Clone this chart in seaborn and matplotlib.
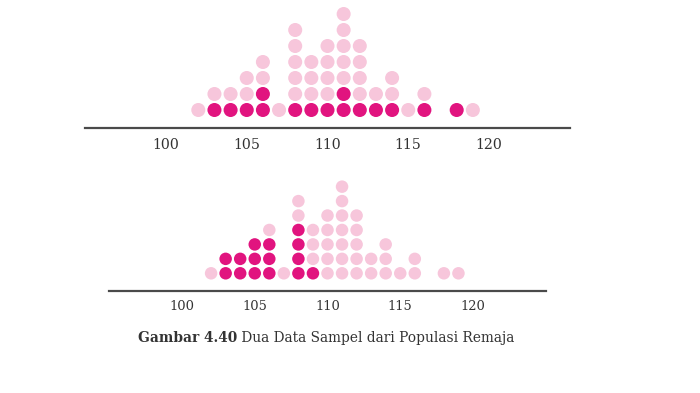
import pandas as pd
import matplotlib
matplotlib.use("Agg")
import matplotlib.pyplot as plt
import seaborn as sns

# --- Data: population of teenagers (dot per person) and two samples ---
values = [102, 103, 104, 105, 106, 107, 108, 109, 110, 111, 112, 113, 114, 115, 116, 118, 119]
pop_counts = [1, 2, 2, 3, 4, 1, 6, 4, 5, 7, 5, 2, 3, 1, 2, 1, 1]
sample1_counts = [0, 1, 1, 1, 2, 0, 1, 1, 1, 2, 1, 1, 1, 0, 1, 1, 0]
sample2_counts = [0, 2, 2, 3, 3, 0, 4, 1, 0, 0, 0, 0, 0, 0, 0, 0, 0]
tick_values = [100, 105, 110, 115, 120]
caption_bold = "Gambar 4.40"
caption_rest = " Dua Data Sampel dari Populasi Remaja"

DARK = "#E1147F"
LIGHT = "#F7C6DB"
AXIS = "#4a4a4a"


def stack_points(sample_counts):
    rows = []
    for v, n, k in zip(values, pop_counts, sample_counts):
        for level in range(n):
            rows.append({"value": v, "level": level, "sampled": level < k})
    return pd.DataFrame(rows)


sns.set_style("white")
plt.rcParams["font.family"] = ["DejaVu Serif"]

fig = plt.figure(figsize=(7, 3.93), dpi=100)
W, H = 700, 393

# axes positions in pixels: (left, spine_y, right, top_y, row0 offset, row gap, marker size, font size)
panels = [
    (85.25, 128, 569.75, 0, 18, 16.0, 102, 10.2, 4, sample1_counts),
    (109.25, 291, 545.75, 175, 17.7, 14.44, 81, 9.4, 3, sample2_counts),
]

for left, spine_y, right, top_y, off, gap, size, fs, pad, counts in panels:
    ax = fig.add_axes([left / W, 1 - spine_y / H, (right - left) / W, (spine_y - top_y) / H])
    df = stack_points(counts)
    sns.scatterplot(data=df, x="value", y="level", hue="sampled",
                    palette={True: DARK, False: LIGHT}, s=size,
                    linewidth=0, legend=False, ax=ax, zorder=3)
    ax.set_xlim(95, 125)
    ax.set_ylim(-off / gap, (spine_y - top_y - off) / gap)
    for side in ["top", "left", "right"]:
        ax.spines[side].set_visible(False)
    ax.spines["bottom"].set_color(AXIS)
    ax.spines["bottom"].set_linewidth(1.6)
    ax.set_yticks([])
    ax.set_xticks(tick_values)
    ax.set_xticklabels([str(t) for t in tick_values])
    ax.tick_params(axis="x", direction="inout", length=7, width=1.0,
                   color=AXIS, labelsize=fs, labelcolor="#333333", pad=pad)
    ax.set_xlabel("")
    ax.set_ylabel("")
    ax.patch.set_alpha(0)

# caption: bold figure number followed by regular text
t1 = fig.text(138 / W, 1 - 338 / H, caption_bold, fontsize=9.9, fontweight="bold",
              color="#333333", ha="left", va="center")
fig.canvas.draw()
bb = t1.get_window_extent()
fig.text(bb.x1 / W, 1 - 338 / H, caption_rest, fontsize=9.9,
         color="#333333", ha="left", va="center")

fig.savefig("out.png", dpi=100)
